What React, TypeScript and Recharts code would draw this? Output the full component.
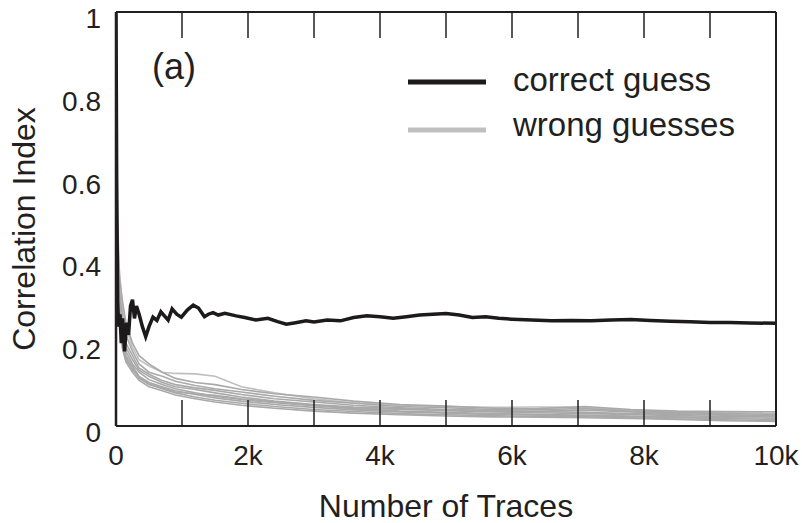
import { LineChart, Line, XAxis, YAxis, Legend } from "recharts"

const INK = "#231f20"
const FONT = "'Liberation Sans', Arial, sans-serif"

const traceTicks = [0, 1000, 2000, 3000, 4000, 5000, 6000, 7000, 8000, 9000, 10000]
const corrTicks = [0, 0.2, 0.4, 0.6, 0.8, 1]
const legendOrder = ["correct guess", "wrong guesses"]

// correct key guess
const correctTraces = [
    0, 10, 25, 40, 60, 80, 100, 130, 160, 190, 220, 250, 280, 310, 350, 400, 450, 500, 560, 620, 680, 740, 790, 850,
    920, 990, 1080, 1170, 1250, 1340, 1400, 1470, 1550, 1650, 1820, 1950, 2120, 2300, 2450, 2580, 2700, 2880, 3000,
    3200, 3400, 3600, 3800, 4000, 4200, 4400, 4600, 4800, 5000, 5200, 5400, 5600, 5800, 6000, 6300, 6600, 6900, 7200,
    7500, 7800, 8100, 8400, 8700, 9000, 9300, 9600, 10000,
]
const correctIndex = [
    1.0, 0.6, 0.3, 0.24, 0.27, 0.2, 0.26, 0.18, 0.25, 0.22, 0.29, 0.305, 0.26, 0.29, 0.27, 0.24, 0.216, 0.24, 0.263,
    0.255, 0.276, 0.265, 0.256, 0.283, 0.27, 0.263, 0.28, 0.292, 0.285, 0.264, 0.27, 0.274, 0.268, 0.272, 0.266, 0.262,
    0.256, 0.26, 0.252, 0.246, 0.249, 0.254, 0.251, 0.256, 0.254, 0.262, 0.266, 0.264, 0.26, 0.264, 0.268, 0.27, 0.272,
    0.268, 0.262, 0.264, 0.26, 0.258, 0.256, 0.254, 0.255, 0.254, 0.256, 0.257, 0.255, 0.253, 0.252, 0.25, 0.25, 0.249,
    0.248,
]

// wrong key guesses
const wrongTraces = [
    0, 20, 50, 100, 150, 250, 350, 500, 700, 900, 1200, 1500, 1900, 2400, 3000, 3600, 4300, 5000, 5700, 6400, 7100,
    7800, 8500, 9200, 10000,
]
const wrong1 = [0.92, 0.52, 0.38, 0.28, 0.24, 0.19, 0.16, 0.145, 0.13, 0.127, 0.126, 0.12, 0.095, 0.08, 0.066, 0.056, 0.05, 0.047, 0.045, 0.046, 0.045, 0.038, 0.034, 0.033, 0.03]
const wrong2 = [0.85, 0.48, 0.36, 0.3, 0.25, 0.2, 0.17, 0.15, 0.13, 0.115, 0.105, 0.1, 0.088, 0.078, 0.07, 0.06, 0.052, 0.048, 0.043, 0.04, 0.042, 0.036, 0.033, 0.03, 0.028]
const wrong3 = [0.78, 0.45, 0.33, 0.26, 0.22, 0.18, 0.15, 0.13, 0.12, 0.108, 0.098, 0.09, 0.082, 0.072, 0.062, 0.055, 0.047, 0.044, 0.04, 0.042, 0.047, 0.04, 0.036, 0.035, 0.034]
const wrong4 = [0.7, 0.42, 0.31, 0.24, 0.2, 0.17, 0.14, 0.125, 0.11, 0.1, 0.092, 0.086, 0.076, 0.066, 0.058, 0.05, 0.044, 0.04, 0.038, 0.035, 0.033, 0.03, 0.028, 0.027, 0.025]
const wrong5 = [0.66, 0.4, 0.3, 0.23, 0.19, 0.16, 0.135, 0.12, 0.105, 0.095, 0.088, 0.08, 0.07, 0.06, 0.052, 0.046, 0.042, 0.037, 0.034, 0.032, 0.03, 0.028, 0.025, 0.023, 0.022]
const wrong6 = [0.62, 0.38, 0.28, 0.22, 0.18, 0.15, 0.13, 0.112, 0.1, 0.09, 0.08, 0.072, 0.064, 0.056, 0.049, 0.042, 0.036, 0.033, 0.03, 0.028, 0.026, 0.024, 0.022, 0.02, 0.019]
const wrong7 = [0.58, 0.36, 0.27, 0.2, 0.17, 0.145, 0.12, 0.105, 0.095, 0.085, 0.076, 0.068, 0.06, 0.052, 0.045, 0.039, 0.034, 0.031, 0.028, 0.026, 0.025, 0.022, 0.02, 0.018, 0.016]
const wrong8 = [0.56, 0.35, 0.26, 0.19, 0.16, 0.14, 0.115, 0.1, 0.09, 0.08, 0.07, 0.062, 0.055, 0.047, 0.04, 0.035, 0.03, 0.027, 0.025, 0.023, 0.022, 0.02, 0.017, 0.015, 0.013]
const wrong9 = [0.6, 0.37, 0.25, 0.185, 0.155, 0.13, 0.11, 0.095, 0.085, 0.075, 0.066, 0.058, 0.05, 0.043, 0.036, 0.031, 0.027, 0.024, 0.022, 0.021, 0.02, 0.018, 0.016, 0.013, 0.011]
const wrong10 = [0.74, 0.44, 0.29, 0.21, 0.165, 0.135, 0.118, 0.102, 0.092, 0.082, 0.078, 0.074, 0.066, 0.058, 0.05, 0.044, 0.04, 0.038, 0.036, 0.036, 0.038, 0.034, 0.03, 0.026, 0.024]

const correctData = correctTraces.map((t, i) => ({ traces: t, value: correctIndex[i] }))
const wrongData = [wrong1, wrong2, wrong3, wrong4, wrong5, wrong6, wrong7, wrong8, wrong9, wrong10].map((s) =>
    wrongTraces.map((t, i) => ({ traces: t, value: s[i] }))
)

const textStyle = { fontFamily: FONT, fill: INK }

const BottomTick = (props: any) => {
    const { x, y, payload } = props
    const v = payload.value
    return (
        <g>
            <line x1={x} x2={x} y1={y} y2={y - 26} stroke={INK} strokeWidth={1.5} />
            {v % 2000 === 0 && (
                <text x={x} y={y + 39} textAnchor="middle" fontSize={28} {...textStyle}>
                    {v === 0 ? "0" : `${v / 1000}k`}
                </text>
            )}
        </g>
    )
}

const TopTick = (props: any) => {
    const { x, y } = props
    return <line x1={x} x2={x} y1={y} y2={y + 26} stroke={INK} strokeWidth={1.5} />
}

const LeftTick = (props: any) => {
    const { x, y, payload } = props
    const v = payload.value
    return (
        <text x={x - 15} y={y + 16} textAnchor="end" fontSize={28} {...textStyle}>
            {v === 0 ? "0" : v === 1 ? "1" : v.toFixed(1)}
        </text>
    )
}

const renderLegend = (props: any) => {
    const items = (props.payload || [])
        .filter((p: any) => legendOrder.includes(p.value))
        .sort((a: any, b: any) => legendOrder.indexOf(a.value) - legendOrder.indexOf(b.value))
    return (
        <svg width={380} height={110}>
            {items.map((p: any, i: number) => (
                <g key={p.value}>
                    <line x1={8} x2={86} y1={42 + i * 48} y2={42 + i * 48} stroke={p.color} strokeWidth={5} />
                    <text x={113} y={51 + i * 45} fontSize={33} {...textStyle}>
                        {p.value}
                    </text>
                </g>
            ))}
        </svg>
    )
}

export default function App() {
    return (
        <div style={{ position: "absolute", left: 0, top: 0, background: "#fff" }}>
            <LineChart width={802} height={523} margin={{ top: 11, right: 25, left: 0, bottom: 0 }}>
                <XAxis
                    dataKey="traces"
                    type="number"
                    domain={[0, 10000]}
                    ticks={traceTicks}
                    interval={0}
                    height={97}
                    tickSize={0}
                    tickMargin={0}
                    tick={BottomTick}
                    axisLine={{ stroke: INK, strokeWidth: 2 }}
                    allowDataOverflow
                    label={(p: any) => (
                        <text
                            x={p.viewBox.x + p.viewBox.width / 2}
                            y={p.viewBox.y + 91}
                            textAnchor="middle"
                            fontSize={32}
                            {...textStyle}
                        >
                            Number of Traces
                        </text>
                    )}
                />
                <XAxis
                    xAxisId="top"
                    dataKey="traces"
                    orientation="top"
                    type="number"
                    domain={[0, 10000]}
                    ticks={traceTicks}
                    interval={0}
                    height={1}
                    tickSize={0}
                    tickMargin={0}
                    tick={TopTick}
                    axisLine={{ stroke: INK, strokeWidth: 2 }}
                    allowDataOverflow
                    label={(p: any) => (
                        <text x={p.viewBox.x + 36} y={p.viewBox.y + 68} fontSize={36} {...textStyle}>
                            (a)
                        </text>
                    )}
                />
                <YAxis
                    type="number"
                    domain={[0, 1]}
                    ticks={corrTicks}
                    interval={0}
                    width={116}
                    tickSize={0}
                    tickMargin={0}
                    tick={LeftTick}
                    tickLine={false}
                    axisLine={{ stroke: INK, strokeWidth: 2.5 }}
                    allowDataOverflow
                    label={(p: any) => {
                        const cx = 35
                        const cy = p.viewBox.y + p.viewBox.height / 2 + 10
                        return (
                            <text
                                x={cx}
                                y={cy}
                                transform={`rotate(-90 ${cx} ${cy})`}
                                textAnchor="middle"
                                fontSize={32}
                                {...textStyle}
                            >
                                Correlation Index
                            </text>
                        )
                    }}
                />
                <YAxis
                    yAxisId="right"
                    orientation="right"
                    type="number"
                    domain={[0, 1]}
                    width={1}
                    tick={false}
                    tickLine={false}
                    axisLine={{ stroke: INK, strokeWidth: 2 }}
                    allowDataOverflow
                />
                <Legend
                    layout="horizontal"
                    verticalAlign="middle"
                    align="center"
                    wrapperStyle={{ left: 400, top: 40, width: 380, height: 110 }}
                    content={renderLegend}
                />
                {wrongData.map((d, i) => (
                    <Line
                        key={`wrong${i}`}
                        data={d}
                        dataKey="value"
                        name={i === 0 ? "wrong guesses" : `wrong ${i + 1}`}
                        legendType={i === 0 ? "line" : "none"}
                        stroke={i === 0 ? "#bfbfbf" : "#a9a9a9"}
                        strokeWidth={1.6}
                        dot={false}
                        activeDot={false}
                        isAnimationActive={false}
                    />
                ))}
                <Line
                    xAxisId="top"
                    yAxisId="right"
                    data={correctData}
                    dataKey="value"
                    name="correct guess"
                    stroke="#1c1a1a"
                    strokeWidth={3.5}
                    dot={false}
                    activeDot={false}
                    isAnimationActive={false}
                />
            </LineChart>
        </div>
    )
}
